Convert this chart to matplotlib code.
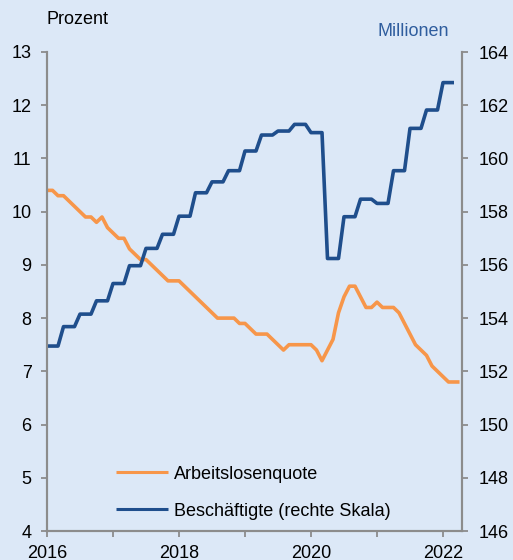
import numpy as np
import matplotlib
matplotlib.use("Agg")
import matplotlib.pyplot as plt

plt.rcParams['font.family'] = ['Liberation Sans', 'DejaVu Sans']

# Monthly unemployment rate (Jan 2016 - Apr 2022), percent
unemployment = [
    10.4, 10.4, 10.3, 10.3, 10.2, 10.1, 10.0, 9.9, 9.9, 9.8, 9.9, 9.7,
    9.6, 9.5, 9.5, 9.3, 9.2, 9.1, 9.1, 9.0, 8.9, 8.8, 8.7, 8.7,
    8.7, 8.6, 8.5, 8.4, 8.3, 8.2, 8.1, 8.0, 8.0, 8.0, 8.0, 7.9,
    7.9, 7.8, 7.7, 7.7, 7.7, 7.6, 7.5, 7.4, 7.5, 7.5, 7.5, 7.5,
    7.5, 7.4, 7.2, 7.4, 7.6, 8.1, 8.4, 8.6, 8.6, 8.4, 8.2, 8.2,
    8.3, 8.2, 8.2, 8.2, 8.1, 7.9, 7.7, 7.5, 7.4, 7.3, 7.1, 7.0,
    6.9, 6.8, 6.8, 6.8,
]

# Quarterly employment (2016Q1 - 2022Q1), millions
employment_q = [
    152.95, 153.68, 154.15, 154.65,
    155.30, 155.97, 156.62, 157.15,
    157.83, 158.71, 159.12, 159.54,
    160.28, 160.88, 161.03, 161.28,
    160.97, 156.24, 157.81, 158.47,
    158.31, 159.54, 161.13, 161.82,
    162.85,
]

left_ticks = [4, 5, 6, 7, 8, 9, 10, 11, 12, 13]
right_ticks = [146, 148, 150, 152, 154, 156, 158, 160, 162, 164]
year_ticks = [2016, 2017, 2018, 2019, 2020, 2021, 2022]
year_labels = ['2016', '', '2018', '', '2020', '', '2022']

bg = '#DCE8F7'
orange = '#F7964A'
blue = '#1F4E8C'
grey = '#8C8C8C'
fs = 13

x_u = 2016 + np.arange(len(unemployment)) / 12.0
employment_m = np.repeat(employment_q, 3)
x_e = 2016 + np.arange(len(employment_m)) / 12.0

fig = plt.figure(figsize=(5.13, 5.6), dpi=100, facecolor=bg)
ax = fig.add_axes([47/513, 29/560, (462-47)/513, (531-52)/560])
ax.set_facecolor(bg)
ax2 = ax.twinx()
ax2.set_facecolor('none')

l1, = ax.plot(x_u, unemployment, color=orange, lw=2.6, solid_capstyle='butt',
              label='Arbeitslosenquote')
l2, = ax2.plot(x_e, employment_m, color=blue, lw=2.6, solid_capstyle='butt',
               label='Beschäftigte (rechte Skala)')

ax.set_xlim(2016, 2022 + 19/66)
ax.set_ylim(4, 13)
ax2.set_ylim(146, 164)
ax.set_yticks(left_ticks)
ax2.set_yticks(right_ticks)
ax.set_xticks(year_ticks)
ax.set_xticklabels(year_labels)

for a in (ax, ax2):
    a.spines['top'].set_visible(False)
    for s in ('left', 'right', 'bottom'):
        a.spines[s].set_color(grey)
        a.spines[s].set_linewidth(1.5)
    a.tick_params(colors=grey, labelcolor='black', labelsize=fs,
                  width=1.3, length=4)
ax.tick_params(axis='y', pad=7)
ax2.tick_params(axis='y', pad=8)
ax.tick_params(axis='x', pad=6)

fig.text(47/513, 1 - 20/560, 'Prozent', fontsize=fs, color='black',
         ha='left', va='center')
fig.text(449/513, 1 - 32/560, 'Millionen', fontsize=fs, color='#2F5D9E',
         ha='right', va='center')

leg = ax.legend(handles=[l1, l2], loc='lower left',
                bbox_to_anchor=(0.139, 0.0), frameon=False, fontsize=fs,
                handlelength=2.9, handletextpad=0.3, labelspacing=1.1,
                borderaxespad=0.23)
for h in leg.get_lines():
    h.set_linewidth(2.2)

fig.savefig('out.png', dpi=100, facecolor=bg)
